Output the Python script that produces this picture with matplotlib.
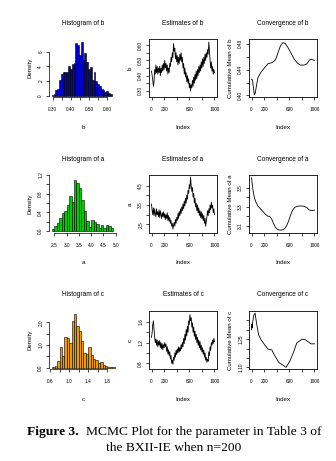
import matplotlib
matplotlib.use("Agg")
import matplotlib.pyplot as plt
import numpy as np

plt.rcParams["font.family"] = ["Liberation Sans", "DejaVu Sans"]

# ---------------- data ----------------
# histogram densities (equal-width bins starting at *_bin_start)
b_bin_start, b_bin_width = 0.295, 0.01
b_density = [0.15, 0.3, 0.8, 0.9, 2.2, 3.0, 3.2, 3.3, 3.2, 4.0, 3.7, 4.3, 4.5,
             7.1, 6.9, 5.5, 7.3, 4.9, 5.8, 4.6, 3.7, 3.9, 2.2, 3.2, 2.0, 1.6,
             1.3, 1.0, 0.8, 0.5, 0.6, 0.4, 0.25]

a_bin_start, a_bin_width = 2.4, 0.1
a_density = [0.05, 0.1, 0.17, 0.28, 0.38, 0.42, 0.55, 0.75, 0.62, 1.1, 1.02,
             0.93, 0.66, 0.42, 0.22, 0.08, 0.24, 0.2, 0.14, 0.07, 0.13, 0.06,
             0.12, 0.1, 0.06]

c_bin_start, c_bin_width = 0.65, 0.05
c_density = [0.04, 0.1, 0.3, 0.9, 0.5, 1.35, 1.3, 1.1, 2.05, 2.35, 1.85, 1.6,
             1.2, 0.65, 0.6, 0.9, 0.55, 0.4, 0.35, 0.2, 0.25, 0.12, 0.08, 0.05,
             0.04, 0.03]

# chain values (every 10th iteration)
trace_index = list(range(0, 1001, 10))
trace_b = [0.43, 0.40, 0.37, 0.33, 0.36, 0.44, 0.41, 0.47, 0.42, 0.46, 0.41,
           0.45, 0.42, 0.46, 0.40, 0.45, 0.42, 0.47, 0.43, 0.48, 0.44,
           0.50, 0.45, 0.48, 0.43, 0.47, 0.41, 0.45, 0.42, 0.48, 0.46,
           0.52, 0.49, 0.55, 0.52, 0.61, 0.56, 0.58, 0.51, 0.55, 0.49,
           0.53, 0.47, 0.52, 0.48, 0.54, 0.50, 0.55, 0.49, 0.52, 0.45,
           0.48, 0.41, 0.45, 0.39, 0.42, 0.36, 0.40, 0.35, 0.38, 0.32,
           0.35, 0.30, 0.34, 0.32, 0.37, 0.33, 0.39, 0.35, 0.41, 0.37,
           0.43, 0.38, 0.44, 0.40, 0.46, 0.42, 0.47, 0.43, 0.49, 0.45,
           0.51, 0.46, 0.52, 0.48, 0.54, 0.50, 0.55, 0.52, 0.57, 0.54,
           0.62, 0.56, 0.50, 0.45, 0.49, 0.43, 0.46, 0.41, 0.44, 0.42]
trace_a = [3.55, 3.2, 3.0, 3.35, 2.95, 3.3, 3.05, 2.9, 3.3, 3.0, 3.15,
           2.9, 3.25, 2.85, 3.2, 3.0, 2.8, 3.1, 2.9, 3.15, 2.85,
           3.05, 2.75, 3.0, 2.8, 3.1, 2.7, 2.95, 2.65, 2.85, 2.55,
           2.7, 2.4, 2.55, 2.25, 2.45, 2.6, 2.4, 2.75, 2.55, 2.85,
           2.7, 3.05, 2.8, 3.15, 2.95, 3.3, 3.05, 3.4, 3.2, 3.55,
           3.3, 3.7, 3.45, 3.85, 3.6, 4.0, 3.8, 4.25, 4.1, 4.55,
           4.35, 4.95, 4.5, 4.2, 4.4, 3.9, 4.1, 3.6, 3.85, 3.4,
           3.6, 3.2, 3.5, 3.1, 3.35, 2.95, 3.2, 2.85, 3.15, 2.8,
           3.05, 2.7, 2.95, 2.55, 2.8, 2.4, 2.65, 2.9, 3.2, 2.95,
           3.3, 3.1, 3.5, 3.25, 3.65, 3.35, 3.5, 3.1, 3.3, 3.0]
trace_c = [1.30, 1.40, 1.55, 1.62, 1.45, 1.30, 1.20, 1.27, 1.15, 1.25, 1.12,
           1.22, 1.15, 1.24, 1.10, 1.20, 1.08, 1.18, 1.06, 1.16, 1.10,
           1.20, 1.12, 1.17, 1.03, 1.12, 0.98, 1.06, 0.95, 1.02, 0.88,
           0.95, 0.80, 0.86, 0.78, 0.92, 0.86, 1.00, 0.92, 1.05, 0.97,
           1.08, 1.00, 1.12, 1.02, 1.10, 1.04, 1.16, 1.08, 1.20, 1.12,
           1.28, 1.18, 1.36, 1.25, 1.45, 1.33, 1.52, 1.40, 1.62, 1.55,
           1.74, 1.62, 1.68, 1.50, 1.58, 1.40, 1.50, 1.32, 1.42, 1.26,
           1.36, 1.20, 1.30, 1.15, 1.25, 1.10, 1.22, 1.06, 1.15, 1.02,
           1.10, 0.98, 1.05, 0.92, 1.00, 0.86, 0.92, 0.82, 0.88, 0.84,
           1.02, 0.95, 1.12, 1.05, 1.20, 1.15, 1.25, 1.18, 1.28, 1.22]

# running (cumulative) means
cum_b_index = [1, 15, 30, 45, 60, 80, 100, 150, 200, 260, 330, 380, 420, 460,
               500, 540, 580, 630, 680, 730, 780, 830, 880, 920, 950, 980, 1000]
cum_b = [0.425, 0.424, 0.412, 0.401, 0.404, 0.416, 0.427, 0.436, 0.442, 0.449,
         0.451, 0.455, 0.466, 0.477, 0.482, 0.480, 0.474, 0.465, 0.456, 0.450,
         0.447, 0.447, 0.449, 0.455, 0.456, 0.455, 0.454]
cum_a_index = [1, 10, 25, 45, 70, 100, 140, 180, 220, 260, 290, 320, 350, 380,
               420, 460, 500, 530, 560, 590, 620, 650, 680, 720, 780, 840, 880,
               910, 940, 970, 1000]
cum_a = [3.61, 3.55, 3.47, 3.40, 3.35, 3.31, 3.28, 3.25, 3.22, 3.20, 3.195,
         3.17, 3.12, 3.08, 3.055, 3.05, 3.055, 3.07, 3.10, 3.15, 3.21, 3.26,
         3.29, 3.305, 3.31, 3.305, 3.29, 3.27, 3.26, 3.26, 3.265]
cum_c_index = [1, 5, 10, 20, 34, 56, 79, 113, 153, 209, 266, 322, 362, 435,
               520, 548, 605, 661, 718, 802, 859, 944, 1000]
cum_c = [1.30, 1.33, 1.31, 1.344, 1.375, 1.389, 1.336, 1.273, 1.246, 1.22,
         1.196, 1.193, 1.166, 1.125, 1.107, 1.10, 1.13, 1.175, 1.229, 1.25,
         1.246, 1.225, 1.225]

# ---------------- layout ----------------
W, H = 336, 461
fig = plt.figure(figsize=(W / 100, H / 100), dpi=100)
fig.patch.set_facecolor("white")

COLS = [49, 149, 249]
ROWS = [39, 175, 311]
AW, AH = 68, 58
TICK_FS, LAB_FS, TITLE_FS = 3.4, 4.4, 4.7


def make_axes(col, row):
    left, top = COLS[col], ROWS[row]
    return fig.add_axes([left / W, 1 - (top + AH) / H, AW / W, AH / H])


def set_ticks(ax, xt, xl, yt, yl):
    ax.set_xticks(xt)
    ax.set_xticklabels(xl)
    ax.set_yticks(yt)
    ax.set_yticklabels(yl)
    ax.tick_params(axis="both", direction="out", length=2.5, width=0.5,
                   labelsize=TICK_FS, colors="black")
    ax.tick_params(axis="x", pad=5.0)
    ax.tick_params(axis="y", pad=1.6, labelrotation=90)
    for lbl in ax.get_yticklabels():
        lbl.set_va("center")


def decorate(ax, title, xlabel, ylabel):
    ax.text(0.5, 1 + 16 / AH, title, transform=ax.transAxes, ha="center",
            va="center", fontsize=TITLE_FS)
    ax.set_xlabel(xlabel, fontsize=LAB_FS)
    ax.xaxis.set_label_coords(0.5, -30 / AH)
    ax.xaxis.label.set_va("center")
    ax.set_ylabel(ylabel, fontsize=LAB_FS)
    ax.yaxis.set_label_coords(-19 / AW, 0.5)
    ax.yaxis.label.set_va("center")


def hist_panel(col, row, start, width, dens, color, xlim, ylim,
               xt, xl, yt, yl, name):
    ax = make_axes(col, row)
    edges = start + width * np.arange(len(dens))
    ax.bar(edges, dens, width=width, align="edge", color=color,
           edgecolor="black", linewidth=0.4)
    ax.set_xlim(*xlim)
    ax.set_ylim(*ylim)
    set_ticks(ax, xt, xl, yt, yl)
    for s in ("top", "right"):
        ax.spines[s].set_visible(False)
    ax.spines["left"].set_bounds(yt[0], yt[-1])
    ax.spines["bottom"].set_bounds(xt[0], xt[-1])
    for s in ("left", "bottom"):
        ax.spines[s].set_linewidth(0.5)
    decorate(ax, "Histogram of " + name, name, "Density")
    return ax


def line_panel(col, row, x, y, lw, ylim, yt, yl, title, ylabel):
    ax = make_axes(col, row)
    ax.plot(x, y, color="black", linewidth=lw)
    ax.set_xlim(-40, 1040)
    ax.set_ylim(*ylim)
    set_ticks(ax, [0, 200, 400, 600, 800, 1000],
              ["0", "200", "", "600", "", "1000"], yt, yl)
    for s in ax.spines.values():
        s.set_linewidth(0.6)
    decorate(ax, title, "Index", ylabel)
    return ax


# row 1: b
hist_panel(0, 0, b_bin_start, b_bin_width, b_density, "#0000CD",
           (0.28, 0.654), (-0.15, 7.7),
           [0.30, 0.35, 0.40, 0.45, 0.50, 0.55, 0.60],
           ["0.30", "", "0.40", "", "0.50", "", "0.60"],
           [0, 2, 4, 6], ["0", "2", "4", "6"], "b")
line_panel(1, 0, trace_index, trace_b, 0.6, (0.26, 0.64),
           [0.30, 0.35, 0.40, 0.45, 0.50, 0.55, 0.60],
           ["0.30", "", "0.40", "", "0.50", "", "0.60"], "Estimates of b", "b")
line_panel(2, 0, cum_b_index, cum_b, 0.6, (0.3975, 0.4875),
           [0.40, 0.42, 0.44, 0.46, 0.48],
           ["0.40", "", "0.44", "", "0.48"], "Convergence of b",
           "Cumulative Mean of b")

# row 2: a
hist_panel(0, 1, a_bin_start, a_bin_width, a_density, "#00CD00",
           (2.28, 5.05), (-0.045, 1.2),
           [2.5, 3.0, 3.5, 4.0, 4.5, 5.0],
           ["2.5", "3.0", "3.5", "4.0", "4.5", "5.0"],
           [0.0, 0.2, 0.4, 0.6, 0.8, 1.0, 1.2],
           ["0.0", "", "0.4", "", "0.8", "", "1.2"], "a")
line_panel(1, 1, trace_index, trace_a, 0.6, (2.05, 5.05),
           [2.5, 3.0, 3.5, 4.0, 4.5], ["2.5", "", "3.5", "", "4.5"],
           "Estimates of a", "a")
line_panel(2, 1, cum_a_index, cum_a, 0.6, (3.02, 3.64),
           [3.1, 3.2, 3.3, 3.4, 3.5], ["3.1", "", "3.3", "", "3.5"],
           "Convergence of a", "Cumulative Mean of a")

# row 3: c
hist_panel(0, 2, c_bin_start, c_bin_width, c_density, "#EE9A00",
           (0.58, 2.0), (-0.05, 2.5),
           [0.6, 0.8, 1.0, 1.2, 1.4, 1.6, 1.8],
           ["0.6", "", "1.0", "", "1.4", "", "1.8"],
           [0.0, 0.5, 1.0, 1.5, 2.0], ["0.0", "", "1.0", "", "2.0"], "c")
line_panel(1, 2, trace_index, trace_c, 0.6, (0.69, 1.81),
           [0.8, 1.0, 1.2, 1.4, 1.6], ["0.8", "", "1.2", "", "1.6"],
           "Estimates of c", "c")
line_panel(2, 2, cum_c_index, cum_c, 0.6, (1.091, 1.40),
           [1.10, 1.15, 1.20, 1.25, 1.30, 1.35],
           ["1.10", "", "", "1.25", "", ""], "Convergence of c",
           "Cumulative Mean of c")

# caption
serif = ["Liberation Serif", "DejaVu Serif"]
CAP_FS = 9.7
fig.text(27 / W, 1 - 432 / H, "Figure 3.", family=serif, weight="bold",
         fontsize=CAP_FS, ha="left", va="center")
fig.text(86 / W, 1 - 432 / H, "MCMC Plot for the parameter in Table 3 of",
         family=serif, fontsize=CAP_FS, ha="left", va="center")
fig.text(174 / W, 1 - 448 / H, "the BXII-IE when n=200", family=serif,
         fontsize=CAP_FS, ha="center", va="center")

fig.savefig("out.png", dpi=100, facecolor="white")
